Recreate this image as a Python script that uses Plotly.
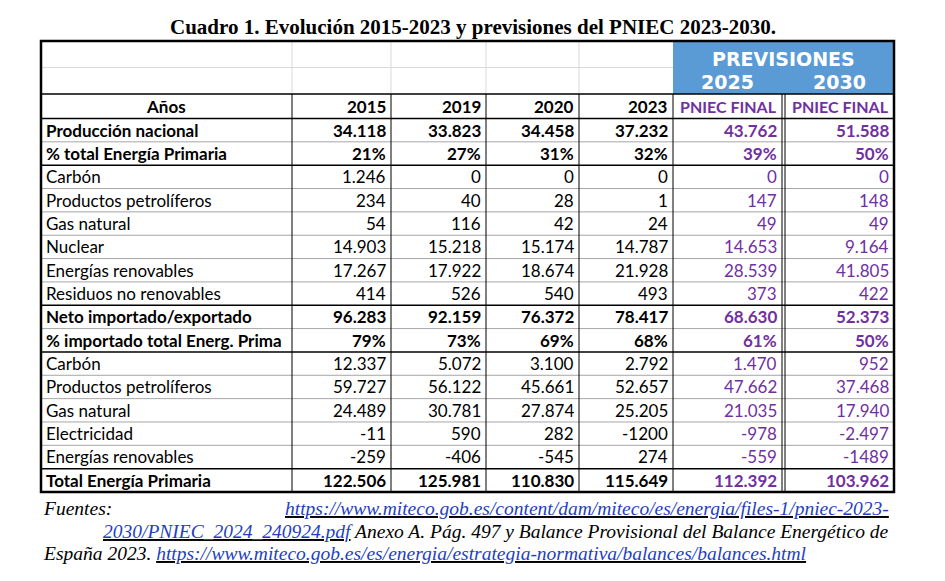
import plotly.graph_objects as go

labels = ["Producción nacional", "% total Energía Primaria", "Carbón", "Productos petrolíferos",
          "Gas natural", "Nuclear", "Energías renovables", "Residuos no renovables",
          "Neto importado/exportado", "% importado total Energ. Prima", "Carbón",
          "Productos petrolíferos", "Gas natural", "Electricidad", "Energías renovables",
          "Total Energía Primaria"]
bold_rows = [0, 1, 8, 9, 15]
years = ["2015", "2019", "2020", "2023"]
v2015 = ["34.118", "21%", "1.246", "234", "54", "14.903", "17.267", "414",
         "96.283", "79%", "12.337", "59.727", "24.489", "-11", "-259", "122.506"]
v2019 = ["33.823", "27%", "0", "40", "116", "15.218", "17.922", "526",
         "92.159", "73%", "5.072", "56.122", "30.781", "590", "-406", "125.981"]
v2020 = ["34.458", "31%", "0", "28", "42", "15.174", "18.674", "540",
         "76.372", "69%", "3.100", "45.661", "27.874", "282", "-545", "110.830"]
v2023 = ["37.232", "32%", "0", "1", "24", "14.787", "21.928", "493",
         "78.417", "68%", "2.792", "52.657", "25.205", "-1200", "274", "115.649"]
v2025 = ["43.762", "39%", "0", "147", "49", "14.653", "28.539", "373",
         "68.630", "61%", "1.470", "47.662", "21.035", "-978", "-559", "112.392"]
v2030 = ["51.588", "50%", "0", "148", "49", "9.164", "41.805", "422",
         "52.373", "50%", "952", "37.468", "17.940", "-2.497", "-1489", "103.962"]

cols = [40, 291, 390, 485, 578, 672, 781, 893]
top, row_h0, y_anos, y_body = 40, 26.5, 93, 117.5
row_h = (491 - y_body) / 16
FONT = "Lato"
FS = 17
PURPLE = "#7030a0"
OFF = 7  # page offset of the plot inside the browser

fig = go.Figure()
fig.add_trace(go.Scatter(x=[0, 945], y=[0, 581], mode="markers", marker=dict(opacity=0),
                         hoverinfo="skip", showlegend=False))
shapes, ann = [], []

def line(x0, y0, x1, y1, c="black", w=1):
    shapes.append(dict(type="line", xref="x", yref="y", x0=x0, y0=y0, x1=x1, y1=y1,
                       line=dict(color=c, width=w)))

def text(x, y, s, anchor="center", size=FS, color="black", bold=False, fam=FONT):
    if bold:
        s = f"<b>{s}</b>"
    ann.append(dict(x=x, y=y, xref="x", yref="y", text=s, showarrow=False, xanchor=anchor,
                    yanchor="middle", font=dict(family=fam, size=size, color=color)))

# blue header
shapes.append(dict(type="rect", xref="x", yref="y", x0=cols[5], x1=cols[7], y0=top, y1=y_anos,
                   fillcolor="#5b9bd5", line=dict(width=0), layer="below"))
line(cols[0], top + row_h0, cols[5], top + row_h0, "#d9d9d9")
for c in cols[1:5]:
    line(c, top, c, y_anos, "#d9d9d9")

ys = [y_body + i * row_h for i in range(17)]
for i, y in enumerate(ys[1:-1], start=1):
    thick = i in (2, 8, 10, 15)
    line(cols[0], y, cols[7], y, "black" if thick else "#a6a6a6", 1.5 if thick else 1)
line(cols[0], y_anos, cols[7], y_anos, "black", 1.5)
line(cols[0], y_body, cols[7], y_body, "black", 1.5)
for c in cols[1:7]:
    line(c, y_anos, c, 491, "black", 1)
line(cols[6] + 3, y_anos, cols[6] + 3, 491, "black", 1)
shapes.append(dict(type="rect", xref="x", yref="y", x0=cols[0], x1=cols[7], y0=top, y1=491,
                   line=dict(color="black", width=2.5)))

text(672 + 221 / 2, 58, "PREVISIONES", size=19, color="white", bold=True, fam="DejaVu Sans")
text(726, 81, "2025", size=19, color="white", bold=True, fam="DejaVu Sans")
text(838, 81, "2030", size=19, color="white", bold=True, fam="DejaVu Sans")
ya = (y_anos + y_body) / 2
text(165, ya, "Años", bold=True)
for i, yr in enumerate(years):
    text(cols[i + 2] - 3, ya, yr, anchor="right", bold=True)
text(cols[6] - 3, ya, "PNIEC FINAL", anchor="right", bold=True, color=PURPLE, size=16)
text(cols[7] - 3, ya, "PNIEC FINAL", anchor="right", bold=True, color=PURPLE, size=16)

series = [v2015, v2019, v2020, v2023, v2025, v2030]
for r, lab in enumerate(labels):
    yc = ys[r] + row_h / 2
    b = r in bold_rows
    text(cols[0] + 3, yc, lab, anchor="left", bold=b)
    for j, vals in enumerate(series):
        text(cols[j + 2] - 3, yc, vals[r], anchor="right", bold=b,
             color=PURPLE if j >= 4 else "black")

ann.append(dict(x=472, y=26, xref="x", yref="y", showarrow=False,
                text="<b>Cuadro 1. Evolución 2015-2023 y previsiones del PNIEC 2023-2030.</b>",
                font=dict(family="Liberation Serif", size=21, color="black")))
L = "color:#1f3fbf"
foot = [
    (507, "<i>Fuentes:</i>", 40, "left"),
    (507, f"<i><u><span style='{L}'>https://www.miteco.gob.es/content/dam/miteco/es/energia/files-1/pniec-2023-</span></u></i>", 890, "right"),
    (530, f"<i><u><span style='{L}'>2030/PNIEC_2024_240924.pdf</span></u> Anexo A. Pág. 497 y Balance Provisional del Balance Energético de</i>", 890, "right"),
    (552, f"<i>España 2023. <u><span style='{L}'>https://www.miteco.gob.es/es/energia/estrategia-normativa/balances/balances.html</span></u></i>", 40, "left"),
]
for y, s, x, a in foot:
    ann.append(dict(x=x, y=y, xref="x", yref="y", showarrow=False, text=s, xanchor=a,
                    font=dict(family="Liberation Serif", size=19.5, color="black")))

fig.update_layout(width=945, height=581, margin=dict(l=0, r=0, t=0, b=0),
                  plot_bgcolor="white", paper_bgcolor="white", shapes=shapes, annotations=ann,
                  xaxis=dict(range=[OFF, 945 + OFF], visible=False, fixedrange=True),
                  yaxis=dict(range=[581 + OFF, OFF], visible=False, fixedrange=True))
fig.write_html("out.html")
